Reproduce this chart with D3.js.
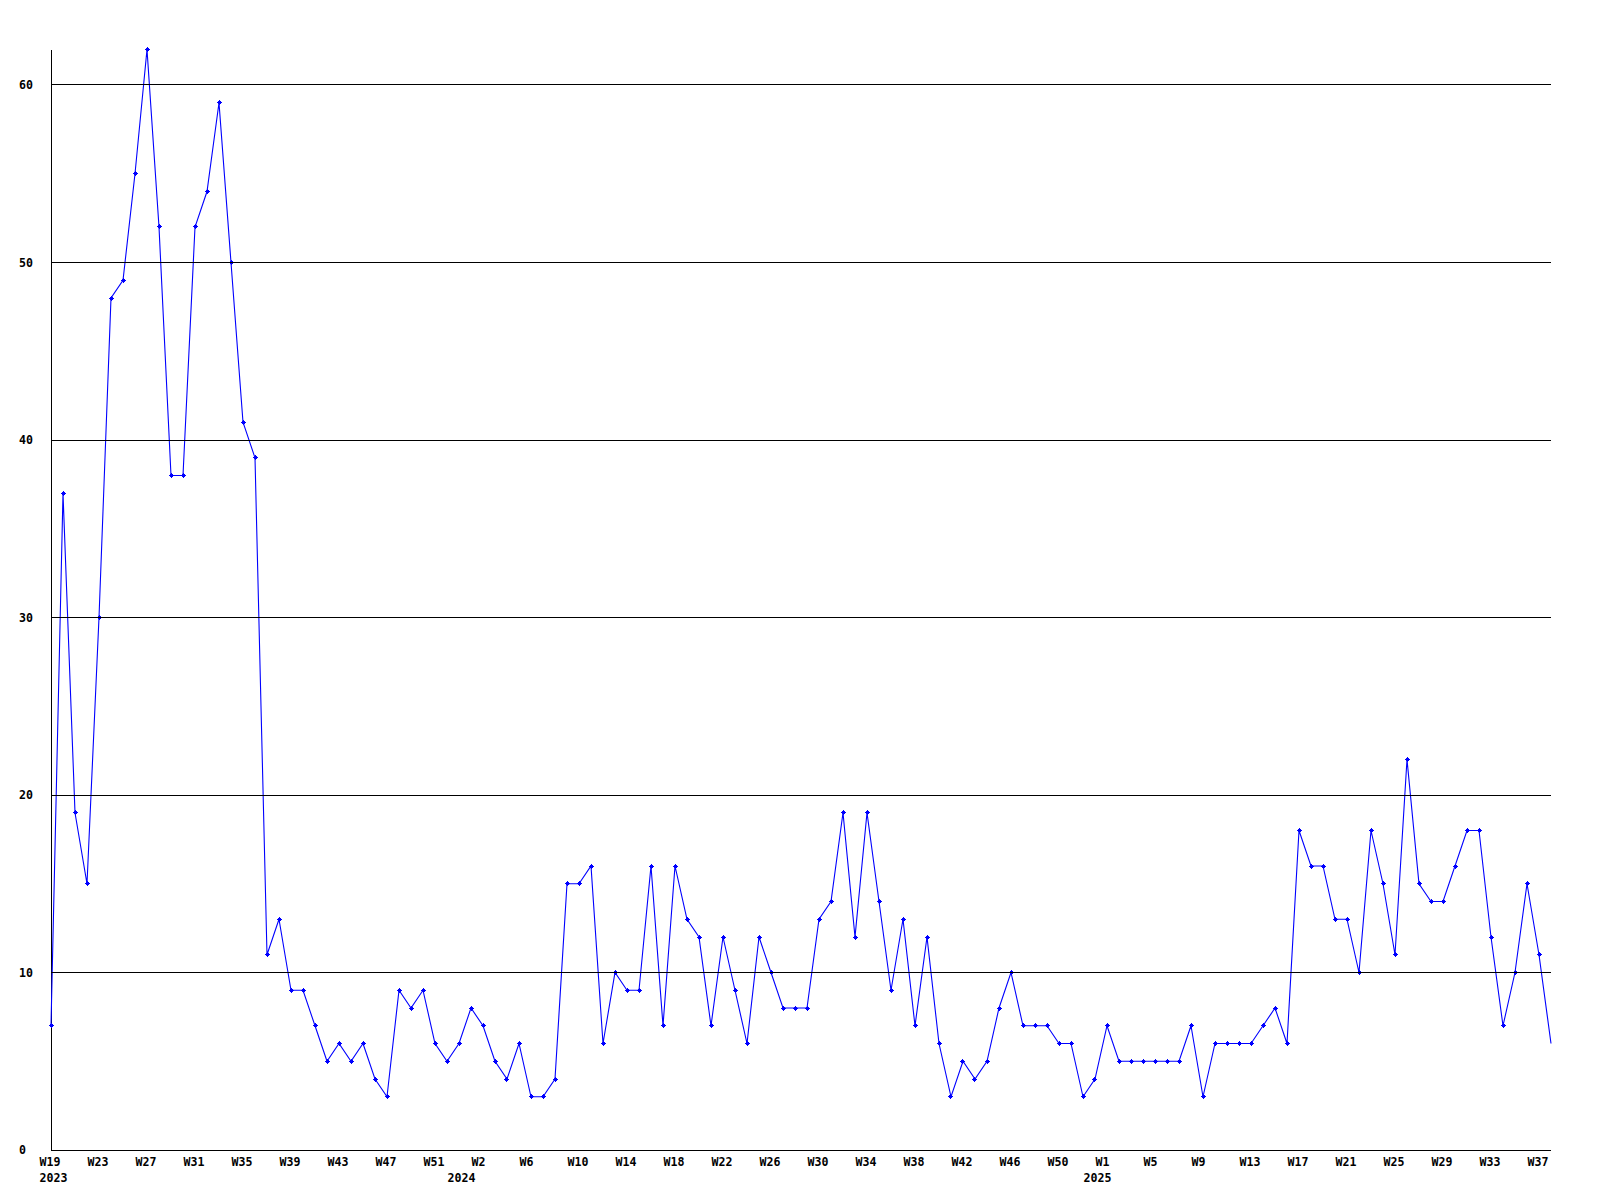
<!DOCTYPE html>
<html>
<head>
<meta charset="utf-8">
<script src="https://cdn.jsdelivr.net/npm/d3@7"></script>
<style>
  html, body { margin: 0; padding: 0; background: #ffffff; }
  svg { display: block; }
  text { font-family: "DejaVu Sans Mono", "Liberation Mono", monospace; font-weight: bold; font-size: 11.6px; fill: #000; }
</style>
</head>
<body>
<svg id="chart" width="1600" height="1200"></svg>
<script>
// ---- data (one value per week, W19 2023 .. W38 2025) ----
const values = [
  7, 37, 19, 15, 30, 48, 49, 55, 62, 52,
  38, 38, 52, 54, 59, 50, 41, 39, 11, 13,
  9, 9, 7, 5, 6, 5, 6, 4, 3, 9,
  8, 9, 6, 5, 6, 8, 7, 5, 4, 6,
  3, 3, 4, 15, 15, 16, 6, 10, 9, 9,
  16, 7, 16, 13, 12, 7, 12, 9, 6, 12,
  10, 8, 8, 8, 13, 14, 19, 12, 19, 14,
  9, 13, 7, 12, 6, 3, 5, 4, 5, 8,
  10, 7, 7, 7, 6, 6, 3, 4, 7, 5,
  5, 5, 5, 5, 5, 7, 3, 6, 6, 6,
  6, 7, 8, 6, 18, 16, 16, 13, 13, 10,
  18, 15, 11, 22, 15, 14, 14, 16, 18, 18,
  12, 7, 10, 15, 11, 6
];
// week tick labels, one every 4 weeks starting at the first week
const weekTickLabels = [
  "W19","W23","W27","W31","W35","W39","W43","W47","W51",
  "W2","W6","W10","W14","W18","W22","W26","W30","W34","W38","W42","W46","W50",
  "W1","W5","W9","W13","W17","W21","W25","W29","W33","W37"
];
const weekTickStep = 4;
// year labels and the week index where each year begins
const yearLabels = ["2023", "2024", "2025"];
const yearStartIndex = [0, 34, 87];
// y-axis ticks
const yTicks = [0, 10, 20, 30, 40, 50, 60];

// ---- layout ----
const left = 51, right = 1551, bottom = 1150;
const svg = d3.select("#chart");

const x = d3.scaleLinear().domain([0, values.length - 1]).range([left, right]);
const y = d3.scaleLinear().domain([0, d3.max(values)]).range([bottom, 49.5]);

const crisp = v => Math.floor(v) + 0.5;

// y axis line
svg.append("line")
  .attr("x1", crisp(left)).attr("x2", crisp(left))
  .attr("y1", y(d3.max(values))).attr("y2", bottom + 0.5)
  .attr("stroke", "#000").attr("stroke-width", 1)
  .attr("shape-rendering", "crispEdges");

// data line
const line = d3.line().x((d, i) => x(i)).y(d => y(d));
svg.append("path")
  .datum(values)
  .attr("d", line)
  .attr("fill", "none")
  .attr("stroke", "#0000ff")
  .attr("stroke-width", 1.1);

// markers (last, partial week has none)
const markerPath = "M-0.5,-2.5h1v1h1v1h1v1h-1v1h-1v1h-1v-1h-1v-1h-1v-1h1v-1h1z";
svg.append("g").selectAll("path")
  .data(values.slice(0, values.length - 1))
  .join("path")
  .attr("d", markerPath)
  .attr("transform", (d, i) => `translate(${Math.floor(x(i)) + 0.5},${Math.floor(y(d)) + 0.5})`)
  .attr("fill", "#0000ff")
  .attr("shape-rendering", "crispEdges");

// gridlines (drawn above the data) and x axis line
svg.append("g").selectAll("line")
  .data(yTicks)
  .join("line")
  .attr("x1", left).attr("x2", right)
  .attr("y1", d => crisp(y(d))).attr("y2", d => crisp(y(d)))
  .attr("stroke", "#000").attr("stroke-width", 1)
  .attr("shape-rendering", "crispEdges");

// y tick labels
svg.append("g").selectAll("text")
  .data(yTicks)
  .join("text")
  .attr("x", 19)
  .attr("y", d => y(d) + 4)
  .text(d => d);

// x week labels
svg.append("g").selectAll("text")
  .data(weekTickLabels)
  .join("text")
  .attr("x", (d, i) => x(i * weekTickStep) - 11.5)
  .attr("y", 1166)
  .text(d => d);

// year labels
svg.append("g").selectAll("text")
  .data(yearLabels)
  .join("text")
  .attr("x", (d, i) => x(yearStartIndex[i]) - 11.5)
  .attr("y", 1181.5)
  .text(d => d);
</script>
</body>
</html>
